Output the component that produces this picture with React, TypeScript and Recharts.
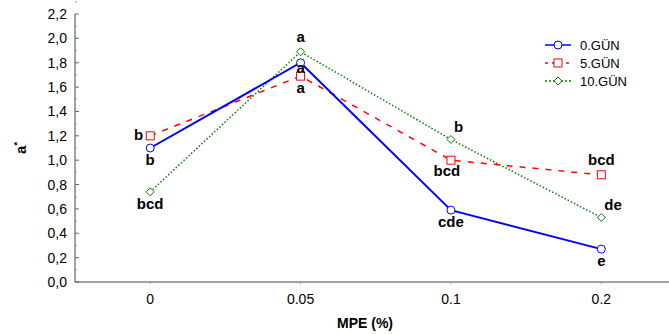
import { LineChart, Line, XAxis, YAxis, LabelList } from "recharts";

const categories = ["0", "0.05", "0.1", "0.2"];
const day0 = [1.1, 1.8, 0.59, 0.27];
const day5 = [1.2, 1.69, 1.0, 0.88];
const day10 = [0.74, 1.89, 1.17, 0.53];
const day0Letters = ["b", "a", "cde", "e"];
const day5Letters = ["b", "a", "bcd", "bcd"];
const day10Letters = ["bcd", "a", "b", "de"];
const yTicks = [0, 0.2, 0.4, 0.6, 0.8, 1.0, 1.2, 1.4, 1.6, 1.8, 2.0, 2.2];

// where each letter sits relative to its point
const day0Place = ["below", "on", "below", "below"];
const day5Place = ["left", "below", "belowLeft", "above"];
const day10Place = ["below", "above", "aboveRight", "aboveRight"];

const data = categories.map((c, i) => ({
  idx: i,
  name: c,
  d0: day0[i],
  d5: day5[i],
  d10: day10[i],
}));

const BLUE = "#0000ff";
const RED = "#ff0000";
const GREEN = "#008000";
const FONT = "'Liberation Sans', Arial, sans-serif";

function Circle({ cx, cy, stroke }: any) {
  return <circle cx={cx} cy={cy} r={4} fill="#fff" stroke={stroke} strokeWidth={1} />;
}
function Square({ cx, cy, stroke }: any) {
  return <rect x={cx - 4} y={cy - 4} width={8} height={8} fill="#fff" stroke={stroke} strokeWidth={1} />;
}
function Diamond({ cx, cy, stroke }: any) {
  return (
    <path
      d={`M${cx},${cy - 4} L${cx + 4},${cy} L${cx},${cy + 4} L${cx - 4},${cy} Z`}
      fill="#fff"
      stroke={stroke}
      strokeWidth={1}
    />
  );
}

const offsets: Record<string, [number, number, string]> = {
  below: [0, 17, "middle"],
  on: [0, 10, "middle"],
  above: [0, -10, "middle"],
  left: [-7, 4, "end"],
  belowLeft: [-4, 16, "middle"],
  aboveRight: [3, -7, "start"],
};

function letterLabel(letters: string[], place: string[]) {
  return (props: any) => {
    const { x, y, index } = props;
    const [dx, dy, anchor] = offsets[place[index]];
    return (
      <text
        x={x + dx}
        y={y + dy}
        textAnchor={anchor}
        fontFamily={FONT}
        fontWeight="bold"
        fontSize={15}
        fill="#000"
      >
        {letters[index]}
      </text>
    );
  };
}

function YTick({ x, y, payload }: any) {
  const ax = x + 6;
  return (
    <g>
      <text x={x - 2} y={y + 5} textAnchor="end" fontFamily={FONT} fontSize={14} fill="#000">
        {payload.value.toFixed(1).replace(".", ",")}
      </text>
      <line x1={ax} x2={ax + 4} y1={y} y2={y} stroke="#666" />
      <line x1={ax} x2={ax + 2} y1={y - 12.2} y2={y - 12.2} stroke="#999" />
    </g>
  );
}

function XTick({ x, y, payload }: any) {
  return (
    <g>
      <line x1={x} x2={x} y1={y - 6} y2={y - 9} stroke="#999" />
      <text x={x} y={y + 14} textAnchor="middle" fontFamily={FONT} fontSize={14} fill="#000">
        {categories[payload.value]}
      </text>
    </g>
  );
}

const legendItems = [
  { label: "0.GÜN", color: BLUE, dash: undefined, Icon: Circle },
  { label: "5.GÜN", color: RED, dash: "3 4", Icon: Square },
  { label: "10.GÜN", color: GREEN, dash: "2 2", Icon: Diamond },
];

function LegendBox() {
  return (
    <svg width={110} height={56} style={{ position: "absolute", left: 540, top: 36 }}>
      {legendItems.map((it, i) => {
        const cy = 9 + i * 18;
        return (
          <g key={it.label}>
            <line x1={5} x2={31} y1={cy} y2={cy} stroke={it.color} strokeWidth={1.5} strokeDasharray={it.dash} />
            <it.Icon cx={18} cy={cy} stroke={it.color} />
            <text x={40} y={cy + 5} fontFamily={FONT} fontSize={13} fill="#000">
              {it.label}
            </text>
          </g>
        );
      })}
    </svg>
  );
}

export default function App() {
  return (
    <div style={{ position: "absolute", left: 0, top: 0, width: 669, height: 334, background: "#fff" }}>
      <LineChart width={669} height={334} data={data} margin={{ top: 14, right: 0, left: 0, bottom: 0 }}>
        <XAxis
          xAxisId="top"
          orientation="top"
          dataKey="idx"
          type="number"
          domain={[-0.5, 3.45]}
          height={0}
          tick={false}
          tickLine={false}
          axisLine={{ stroke: "#444" }}
        />
        <XAxis
          dataKey="idx"
          type="number"
          domain={[-0.5, 3.45]}
          ticks={[0, 1, 2, 3]}
          allowDataOverflow
          height={52}
          tickLine={false}
          tick={<XTick />}
          axisLine={{ stroke: "#444" }}
          label={(props: any) => {
            const { viewBox } = props;
            const cx = viewBox.x + viewBox.width / 2 - 7;
            return (
              <text
                x={cx}
                y={viewBox.y + viewBox.height - 6}
                textAnchor="middle"
                fontFamily={FONT}
                fontWeight="bold"
                fontSize={14}
                fill="#000"
              >
                MPE (%)
              </text>
            );
          }}
        />
        <YAxis
          width={75}
          domain={[0, 2.2]}
          ticks={yTicks}
          tickLine={false}
          tickSize={0}
          tickMargin={6}
          tick={<YTick />}
          axisLine={{ stroke: "#444" }}
          label={(props: any) => {
            const { viewBox } = props;
            const cy = viewBox.y + viewBox.height / 2;
            return (
              <text
                x={26}
                y={cy}
                transform={`rotate(-90 26 ${cy})`}
                textAnchor="middle"
                fontFamily={FONT}
                fontWeight="bold"
                fontSize={15}
                fill="#000"
              >
                a<tspan dy={-6} fontSize={9}>*</tspan>
              </text>
            );
          }}
        />
        <Line
          dataKey="d5"
          stroke={RED}
          strokeWidth={1.5}
          strokeDasharray="6 7"
          dot={<Square stroke={RED} />}
          activeDot={false}
          isAnimationActive={false}
        >
          <LabelList dataKey="d5" content={letterLabel(day5Letters, day5Place)} />
        </Line>
        <Line
          dataKey="d10"
          stroke={GREEN}
          strokeWidth={1.5}
          strokeDasharray="1.5 2"
          dot={<Diamond stroke={GREEN} />}
          activeDot={false}
          isAnimationActive={false}
        >
          <LabelList dataKey="d10" content={letterLabel(day10Letters, day10Place)} />
        </Line>
        <Line
          dataKey="d0"
          stroke={BLUE}
          strokeWidth={2}
          dot={<Circle stroke={BLUE} />}
          activeDot={false}
          isAnimationActive={false}
        >
          <LabelList dataKey="d0" content={letterLabel(day0Letters, day0Place)} />
        </Line>
      </LineChart>
      <LegendBox />
    </div>
  );
}
